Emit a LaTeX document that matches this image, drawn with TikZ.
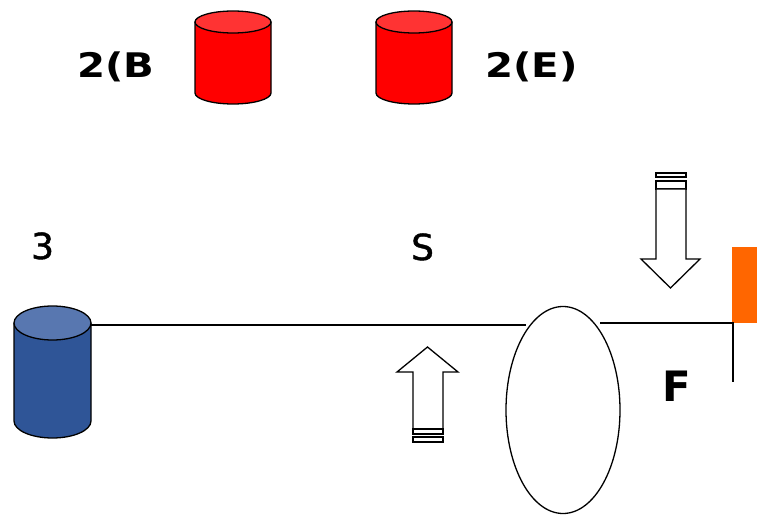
\documentclass[tikz,border=0pt]{standalone}
\usepackage{fontspec}
\setmainfont{DejaVu Sans}
\newfontfamily\medfont[FakeBold=1.2]{DejaVu Sans}
\usetikzlibrary{shapes.geometric}
\definecolor{redbody}{HTML}{FF0000}
\definecolor{redtop}{HTML}{FF3333}
\definecolor{bluebody}{HTML}{2F5597}
\definecolor{bluetop}{HTML}{5877B0}
\definecolor{orangeflag}{HTML}{FF6600}
\tikzset{
  outline/.style={draw=black, line width=1.3bp, line join=round},
  lbl/.style={inner sep=0pt, anchor=base west},
  boldlbl/.style={lbl, font=\fontsize{34}{40}\selectfont\bfseries},
  plainlbl/.style={lbl, font=\fontsize{36}{42}\medfont},
  biglbl/.style={lbl, font=\fontsize{42}{48}\selectfont\bfseries},
  conn/.style={draw=black, line width=1.3bp},
  hollowarrow/.style={draw=black, fill=white, line width=1.3bp, line join=miter}
}
\newcommand\mycylinder[7]{% cx, topcy, botcy, rx, ry, bodycolor, topcolor
  \path[outline, fill=#6] (#1-#4,#2) -- (#1-#4,#3) arc[start angle=180, end angle=360, x radius=#4bp, y radius=#5bp] -- (#1+#4,#2) -- cycle;
  \path[outline, fill=#7] (#1,#2) ellipse[x radius=#4bp, y radius=#5bp];
}
\begin{document}
\begin{tikzpicture}[x=1bp, y=-1bp]
\useasboundingbox (0,0) rectangle (757,515);
% cylinders
\mycylinder{233}{22}{93}{38}{11}{redbody}{redtop}
\mycylinder{414}{22}{93}{38}{11}{redbody}{redtop}
\mycylinder{52.5}{323}{421}{38.5}{17}{bluebody}{bluetop}
% labels
\node[boldlbl] (lb) at (77,78) {\scalebox{1.19}[1]{2(B}};
\node[boldlbl] (le) at (485,78) {\scalebox{1.19}[1]{2(E)}};
\node[plainlbl] (l3) at (31,259) {3};
\node[plainlbl] (ls) at (411,260) {S};
\node[biglbl] (lf) at (662,401) {F};
% ellipse
\node[ellipse, draw=black, line width=1.3bp, minimum width=114bp, minimum height=207bp, inner sep=0pt] (lens) at (563,410) {};
% flag
\node[fill=orangeflag, inner sep=0pt, minimum width=25bp, minimum height=76bp, anchor=south west] (flag) at (732,323) {};
% connectors
\coordinate (blueR) at (91,325);
\coordinate (lensL) at (526,325);
\coordinate (lensR) at (600,323);
\coordinate (corner) at (733,323);
\coordinate (poleEnd) at (733,382);
\draw[conn] (blueR) -- (lensL);
\draw[conn] (lensR) -- (corner) -- (poleEnd);
% down arrow
\path[hollowarrow] (656,173) rectangle (686,177);
\path[hollowarrow] (656,181) rectangle (686,189);
\path[hollowarrow] (656,189) -- (686,189) -- (686,259) -- (700,259) -- (670.5,288) -- (641,259) -- (656,259) -- cycle;
% up arrow
\path[hollowarrow] (413,429) -- (443,429) -- (443,372) -- (458,372) -- (427.5,347) -- (397,372) -- (413,372) -- cycle;
\path[hollowarrow] (413,429) rectangle (443,434);
\path[hollowarrow] (413,437) rectangle (443,442);
\end{tikzpicture}
\end{document}
